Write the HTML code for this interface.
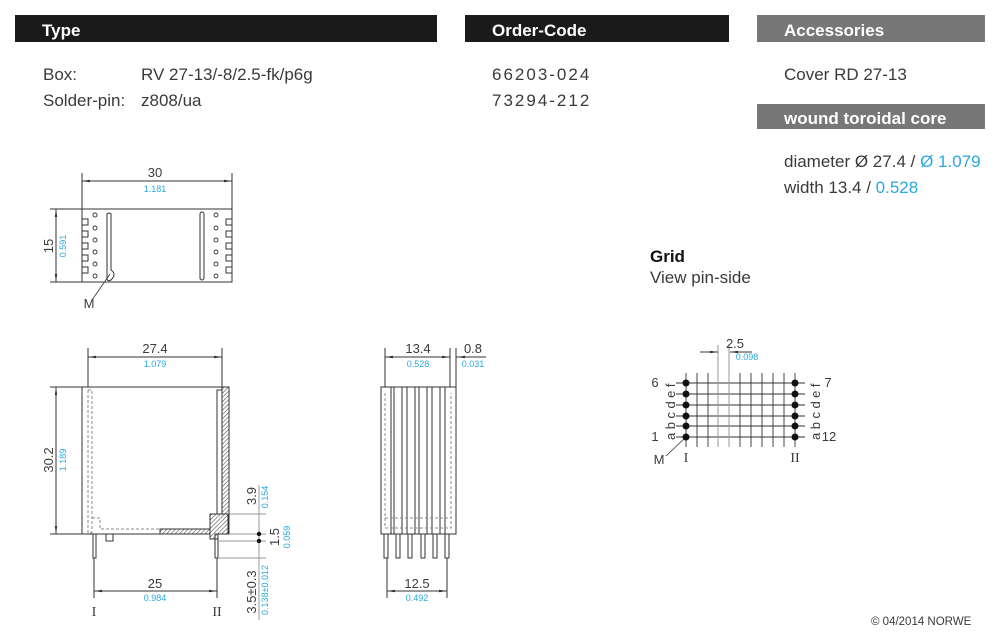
<!DOCTYPE html>
<html><head><meta charset="utf-8"><style>
html,body{margin:0;padding:0;background:#fff;}
svg{display:block;font-family:"Liberation Sans",sans-serif;}
.b{fill:#3a3a3a}
.c{fill:#29a8e0}
</style></head><body>
<svg width="1000" height="644" viewBox="0 0 1000 644" xmlns="http://www.w3.org/2000/svg">
<defs>
<pattern id="h" width="3" height="3" patternUnits="userSpaceOnUse" patternTransform="rotate(45)">
<rect width="3" height="3" fill="#fff"/><line x1="0" y1="0" x2="0" y2="3" stroke="#555" stroke-width="1.2"/></pattern>
<marker id="a" markerWidth="8" markerHeight="4" refX="8" refY="2" orient="auto"><path d="M0,0.8 L8,2 L0,3.2z" fill="#333"/></marker>
</defs>
<!-- headers -->
<rect x="15" y="15" width="422" height="27" fill="#1a1a1a"/>
<rect x="465" y="15" width="264" height="27" fill="#1a1a1a"/>
<rect x="757" y="15" width="228" height="27" fill="#777"/>
<rect x="757" y="104" width="228" height="25" fill="#777"/>
<g font-weight="bold" fill="#fff" font-size="17">
<text x="42" y="36">Type</text><text x="492" y="36">Order-Code</text>
<text x="784" y="36">Accessories</text><text x="784" y="124">wound toroidal core</text></g>
<g class="b" font-size="17">
<text x="43" y="80">Box:</text><text x="141" y="80">RV 27-13/-8/2.5-fk/p6g</text>
<text x="43" y="106">Solder-pin:</text><text x="141" y="106">z808/ua</text>
<text x="492" y="80" letter-spacing="2">66203-024</text>
<text x="492" y="106" letter-spacing="2">73294-212</text>
<text x="784" y="80">Cover RD 27-13</text>
<text x="784" y="167">diameter  Ø 27.4 / <tspan class="c">Ø 1.079</tspan></text>
<text x="784" y="193">width 13.4 / <tspan class="c">0.528</tspan></text>
<text x="650" y="262" font-weight="bold" fill="#111">Grid</text>
<text x="650" y="283">View pin-side</text>
</g>
<text x="871" y="625" font-size="11.5" class="b">© 04/2014 NORWE</text>

<g stroke="#333" fill="none" stroke-width="1">
<!-- top view -->
<rect x="82" y="209" width="150" height="73"/>
<line x1="82" y1="173" x2="82" y2="209"/><line x1="232" y1="173" x2="232" y2="209"/>
<line x1="82" y1="181" x2="232" y2="181" marker-end="url(#a)"/><line x1="232" y1="181" x2="82" y2="181" marker-end="url(#a)"/>
<line x1="50" y1="209" x2="82" y2="209"/><line x1="50" y1="282" x2="82" y2="282"/>
<line x1="56" y1="209" x2="56" y2="282" marker-end="url(#a)"/><line x1="56" y1="282" x2="56" y2="209" marker-end="url(#a)"/>
<path d="M82,219 h6 v6 h-6 M82,231 h6 v6 h-6 M82,243 h6 v6 h-6 M82,255 h6 v6 h-6 M82,267 h6 v6 h-6"/>
<path d="M232,219 h-6 v6 h6 M232,231 h-6 v6 h6 M232,243 h-6 v6 h6 M232,255 h-6 v6 h6 M232,267 h-6 v6 h6"/>
<g stroke-width="0.9">
<circle cx="95" cy="215" r="2"/><circle cx="95" cy="228" r="2"/><circle cx="95" cy="240" r="2"/><circle cx="95" cy="252" r="2"/><circle cx="95" cy="264" r="2"/><circle cx="95" cy="276" r="2"/>
<circle cx="216" cy="215" r="2"/><circle cx="216" cy="228" r="2"/><circle cx="216" cy="240" r="2"/><circle cx="216" cy="252" r="2"/><circle cx="216" cy="264" r="2"/><circle cx="216" cy="276" r="2"/></g>
<path d="M107,214 q2,-2 4,0 v56 q6,4 0,10 q-4,2 -4,-2 z"/>
<rect x="200" y="212" width="4" height="68" rx="2"/>
<line x1="110" y1="274" x2="92" y2="300" stroke-width="0.8"/>

<!-- side view -->
<rect x="82" y="387" width="147" height="147"/>
<path d="M88,390 h4 v145 M88,390 v143 h4" stroke="#888" stroke-dasharray="3,2"/>
<path d="M92,518 h8 v11 h60" stroke="#888" stroke-dasharray="3,2"/>
<rect x="160" y="529" width="50" height="5" fill="url(#h)"/>
<path d="M222,387 h7 v147 h-7 z" fill="url(#h)"/>
<path d="M210,514 h18 v20 h-10 v5 h-8 z" fill="url(#h)"/>
<rect x="217" y="390" width="5" height="124" fill="#fff"/>
<rect x="93" y="534" width="3" height="24"/><rect x="215" y="534" width="3" height="24"/>
<rect x="106" y="534" width="7" height="7"/>
<line x1="88" y1="348" x2="88" y2="387"/><line x1="222" y1="348" x2="222" y2="387"/>
<line x1="88" y1="357" x2="222" y2="357" marker-end="url(#a)"/><line x1="222" y1="357" x2="88" y2="357" marker-end="url(#a)"/>
<line x1="50" y1="387" x2="82" y2="387"/><line x1="50" y1="534" x2="82" y2="534"/>
<line x1="56" y1="387" x2="56" y2="534" marker-end="url(#a)"/><line x1="56" y1="534" x2="56" y2="387" marker-end="url(#a)"/>
<line x1="94" y1="558" x2="94" y2="598"/><line x1="217" y1="558" x2="217" y2="598"/>
<line x1="94" y1="591" x2="217" y2="591" marker-end="url(#a)"/><line x1="217" y1="591" x2="94" y2="591" marker-end="url(#a)"/>
<g stroke="#999"><line x1="229" y1="514" x2="266" y2="514"/><line x1="229" y1="534" x2="266" y2="534"/><line x1="218" y1="541" x2="266" y2="541"/><line x1="218" y1="558" x2="266" y2="558"/></g>
<line x1="259" y1="485" x2="259" y2="620" stroke="#999"/>
<!-- front view -->
<rect x="381" y="387" width="75" height="147"/>
<g fill="#fff">
<rect x="381" y="387" width="10" height="147"/><rect x="394" y="387" width="8" height="147"/><rect x="407" y="387" width="8" height="147"/><rect x="419" y="387" width="8" height="147"/><rect x="432" y="387" width="8" height="147"/><rect x="445" y="387" width="11" height="147"/></g>
<path d="M385,393 v135 h66 v-135" stroke="#888" stroke-dasharray="3,2"/>
<line x1="385" y1="518" x2="451" y2="518" stroke="#888" stroke-dasharray="3,2"/>
<rect x="384" y="534" width="4" height="24"/><rect x="396" y="534" width="4" height="24"/><rect x="408" y="534" width="4" height="24"/><rect x="421" y="534" width="4" height="24"/><rect x="433" y="534" width="4" height="24"/><rect x="445" y="534" width="4" height="24"/>
<line x1="385" y1="348" x2="385" y2="387"/><line x1="450" y1="348" x2="450" y2="387"/><line x1="456" y1="348" x2="456" y2="387"/>
<line x1="385" y1="357" x2="450" y2="357" marker-end="url(#a)"/><line x1="450" y1="357" x2="385" y2="357" marker-end="url(#a)"/>
<line x1="456" y1="357" x2="486" y2="357"/><line x1="470" y1="357" x2="457" y2="357" marker-end="url(#a)"/>
<line x1="387" y1="558" x2="387" y2="598"/><line x1="447" y1="558" x2="447" y2="598"/>
<line x1="387" y1="591" x2="447" y2="591" marker-end="url(#a)"/><line x1="447" y1="591" x2="387" y2="591" marker-end="url(#a)"/>
<!-- grid -->
<g stroke="#333" stroke-width="0.9">
<line x1="676" y1="383" x2="805" y2="383"/><line x1="676" y1="394" x2="805" y2="394"/><line x1="676" y1="405" x2="805" y2="405"/><line x1="676" y1="416" x2="805" y2="416"/><line x1="676" y1="426" x2="805" y2="426"/><line x1="676" y1="437" x2="805" y2="437"/>
<line x1="686" y1="373" x2="686" y2="447"/><line x1="697" y1="373" x2="697" y2="447"/><line x1="708" y1="373" x2="708" y2="447"/><line x1="740" y1="373" x2="740" y2="447"/><line x1="751" y1="373" x2="751" y2="447"/><line x1="762" y1="373" x2="762" y2="447"/><line x1="773" y1="373" x2="773" y2="447"/><line x1="784" y1="373" x2="784" y2="447"/><line x1="795" y1="373" x2="795" y2="447"/></g>
<line x1="718" y1="345" x2="718" y2="447" stroke="#999"/><line x1="729" y1="345" x2="729" y2="447" stroke="#999"/>
<line x1="700" y1="352" x2="718" y2="352" marker-end="url(#a)"/><line x1="752" y1="352" x2="730" y2="352" marker-end="url(#a)"/>
<line x1="686" y1="437" x2="666" y2="456" stroke-width="0.8"/>
</g>
<g fill="#111">
<circle cx="686" cy="383" r="3.5"/><circle cx="686" cy="394" r="3.5"/><circle cx="686" cy="405" r="3.5"/><circle cx="686" cy="416" r="3.5"/><circle cx="686" cy="426" r="3.5"/><circle cx="686" cy="437" r="3.5"/>
<circle cx="795" cy="383" r="3.5"/><circle cx="795" cy="394" r="3.5"/><circle cx="795" cy="405" r="3.5"/><circle cx="795" cy="416" r="3.5"/><circle cx="795" cy="426" r="3.5"/><circle cx="795" cy="437" r="3.5"/>
<circle cx="259" cy="534" r="2.2"/><circle cx="259" cy="541" r="2.2"/></g>

<!-- dim texts -->
<g class="b" font-size="13" text-anchor="middle">
<text x="155" y="177">30</text><text x="155" y="353">27.4</text><text x="155" y="588">25</text>
<text x="418" y="353">13.4</text><text x="473" y="353">0.8</text><text x="417" y="588">12.5</text>
<text x="89" y="308">M</text><text x="659" y="464">M</text>
<text x="735" y="348">2.5</text>
<text x="655" y="387">6</text><text x="655" y="441">1</text>
<text x="828" y="387">7</text><text x="829" y="441">12</text>
<text transform="translate(675,410) rotate(-90)" letter-spacing="3.5">abcdef</text>
<text transform="translate(820,410) rotate(-90)" letter-spacing="3.5">abcdef</text>
<text transform="translate(53,246) rotate(-90)">15</text>
<text transform="translate(53,460) rotate(-90)">30.2</text>
<text transform="translate(256,496) rotate(-90)">3.9</text>
<text transform="translate(279,537) rotate(-90)">1.5</text>
<text transform="translate(256,592) rotate(-90)">3.5±0.3</text>
</g>
<g font-family="Liberation Serif,serif" font-size="14" class="b" text-anchor="middle">
<text x="94" y="616">I</text><text x="217" y="616">II</text><text x="686" y="462">I</text><text x="795" y="462">II</text></g>
<g class="c" font-size="9" text-anchor="middle">
<text x="155" y="192">1.181</text><text x="155" y="367">1.079</text><text x="155" y="601">0.984</text>
<text x="418" y="367">0.528</text><text x="473" y="367">0.031</text><text x="417" y="601">0.492</text>
<text x="747" y="360">0.098</text>
<text transform="translate(66,246) rotate(-90)">0.591</text>
<text transform="translate(66,460) rotate(-90)">1.189</text>
<text transform="translate(268,497) rotate(-90)">0.154</text>
<text transform="translate(290,537) rotate(-90)">0.059</text>
<text transform="translate(268,590) rotate(-90)">0.138±0.012</text>
</g>
</svg>
</body></html>
